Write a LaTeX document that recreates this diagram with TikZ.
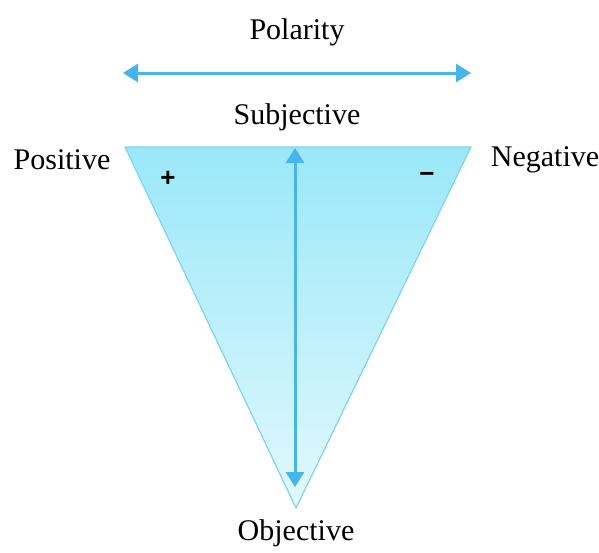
\documentclass[tikz,border=0pt]{standalone}
\usepackage{fontspec}
\setmainfont{Liberation Serif}
\newfontfamily\signfont{Liberation Sans}
\usetikzlibrary{arrows.meta}
\definecolor{arrowblue}{HTML}{45B5EC}
\definecolor{edgeblue}{HTML}{7FD4EE}
\definecolor{topfill}{HTML}{9AE8F9}
\definecolor{botfill}{HTML}{E2F8FC}
\tikzset{
  lbl/.style={font=\fontsize{30}{33}\selectfont, inner sep=0pt},
  sign/.style={font=\signfont\bfseries\fontsize{26}{28}\selectfont, inner sep=0pt},
  bluearrow/.style={draw=arrowblue, line width=3pt, {Triangle[width=18pt,length=15pt]}-{Triangle[width=18pt,length=15pt]}},
}
\begin{document}
\begin{tikzpicture}[x=1pt,y=-1pt]
\useasboundingbox (0,0) rectangle (599,552);
\coordinate (tl) at (125,147);
\coordinate (tr) at (471,147);
\coordinate (bt) at (296,508);
\shade[top color=topfill, bottom color=botfill] (tl) -- (tr) -- (bt) -- cycle;
\draw[edgeblue, line width=1.2pt, line join=round] (tl) -- (tr) -- (bt) -- cycle;
\coordinate (pl) at (123,73);
\coordinate (pr) at (471,73);
\draw[bluearrow] (pl) -- (pr);
\coordinate (vt) at (295,148);
\coordinate (vb) at (295,487);
\draw[bluearrow] (vt) -- (vb);
\node[lbl] (polarity) at (297,32) {Polarity};
\node[lbl] (subj) at (297,117) {Subjective};
\node[lbl] (pos) at (62,160) {Positive};
\node[lbl] (neg) at (545,160) {Negative};
\node[lbl] (obj) at (296,533) {Objective};
\node[sign] (plus) at (168,179) {+};
\node[sign] (minus) at (427,177) {\textminus};
\end{tikzpicture}
\end{document}
